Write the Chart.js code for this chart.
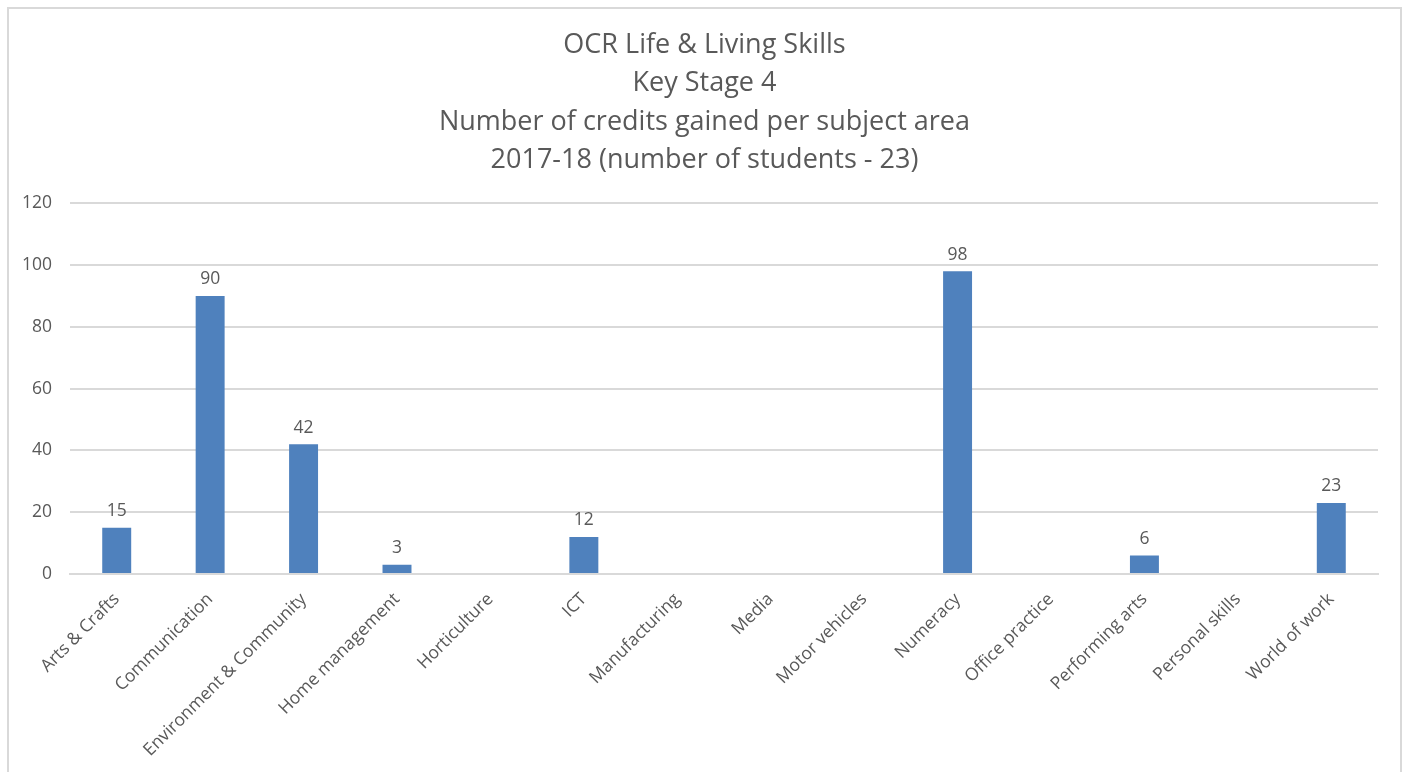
<!DOCTYPE html>
<html>
<head>
<meta charset="utf-8">
<script src="https://cdn.jsdelivr.net/npm/chart.js@4/dist/chart.umd.min.js"></script>
<style>
    body { margin: 0; background: #fff; overflow: hidden; }
    #frame {
        position: absolute; left: 7px; top: 7px;
        width: 1391px; height: 790px;
        border: 2px solid #d9d9d9;
    }
    #frame canvas { display: block; }
</style>
</head>
<body>
<div id="frame"><canvas id="creditsChart" width="1391" height="790"></canvas></div>
<script>
    var subjects = [
        "Arts & Crafts", "Communication", "Environment & Community", "Home management",
        "Horticulture", "ICT", "Manufacturing", "Media", "Motor vehicles", "Numeracy",
        "Office practice", "Performing arts", "Personal skills", "World of work"
    ];
    // blank cells in the sheet are null, so no bar or label is drawn
    var credits = [15, 90, 42, 3, null, 12, null, null, null, 98, null, 6, null, 23];
    var yTicks = [0, 20, 40, 60, 80, 100, 120];
    var titleLines = [
        "OCR Life & Living Skills",
        "Key Stage 4",
        "Number of credits gained per subject area",
        "2017-18 (number of students - 23)"
    ];

    var textGrey = "#595959";
    var fontName = "'Open Sans', Lato, sans-serif";

    // simple value labels above each bar
    var barLabels = {
        id: "barLabels",
        afterDatasetsDraw: function (chart) {
            var ctx = chart.ctx;
            var meta = chart.getDatasetMeta(0);
            ctx.save();
            ctx.fillStyle = textGrey;
            ctx.font = "17.5px " + fontName;
            ctx.textAlign = "center";
            ctx.textBaseline = "bottom";
            meta.data.forEach(function (bar, i) {
                if (credits[i] === null) return;
                ctx.fillText(credits[i], bar.x, bar.y - 8);
            });
            ctx.restore();
        }
    };

    var config = {
        type: "bar",
        data: {
            labels: subjects,
            datasets: [
                {
                    label: "Credits",
                    data: credits,
                    backgroundColor: "#4f81bd",
                    borderWidth: 0,
                    categoryPercentage: 1,
                    barPercentage: 0.31
                }
            ]
        },
        options: {
            responsive: false,
            animation: false,
            events: [],
            layout: { padding: 0 },
            plugins: {
                legend: { display: false },
                tooltip: { enabled: false },
                title: {
                    display: true,
                    text: titleLines,
                    color: textGrey,
                    font: { family: fontName, size: 27, weight: "normal", lineHeight: 1.42 },
                    padding: { top: 17, bottom: 24 }
                }
            },
            scales: {
                x: {
                    grid: { display: false, drawTicks: false },
                    border: { display: true, color: "#d9d9d9", width: 2 },
                    ticks: {
                        color: textGrey,
                        font: { family: fontName, size: 17.5 },
                        minRotation: 45,
                        maxRotation: 45,
                        autoSkip: false,
                        padding: 15
                    },
                    afterFit: function (scale) { scale.height = 225; }
                },
                y: {
                    min: 0,
                    max: 120,
                    afterBuildTicks: function (scale) {
                        scale.ticks = yTicks.map(function (v) { return { value: v }; });
                    },
                    grid: { color: "#d9d9d9", lineWidth: 2, drawTicks: false },
                    border: { display: false },
                    ticks: {
                        color: textGrey,
                        font: { family: fontName, size: 17.5 },
                        padding: 18
                    },
                    afterFit: function (scale) { scale.width = 61; }
                },
                // empty right-hand spacer so the title stays centred on the whole frame
                spacer: {
                    position: "right",
                    grid: { display: false, drawTicks: false },
                    border: { display: false },
                    ticks: { display: false },
                    afterFit: function (scale) { scale.width = 22; }
                }
            }
        },
        plugins: [barLabels]
    };

    var creditsChart = new Chart(document.getElementById("creditsChart"), config);
</script>
</body>
</html>
